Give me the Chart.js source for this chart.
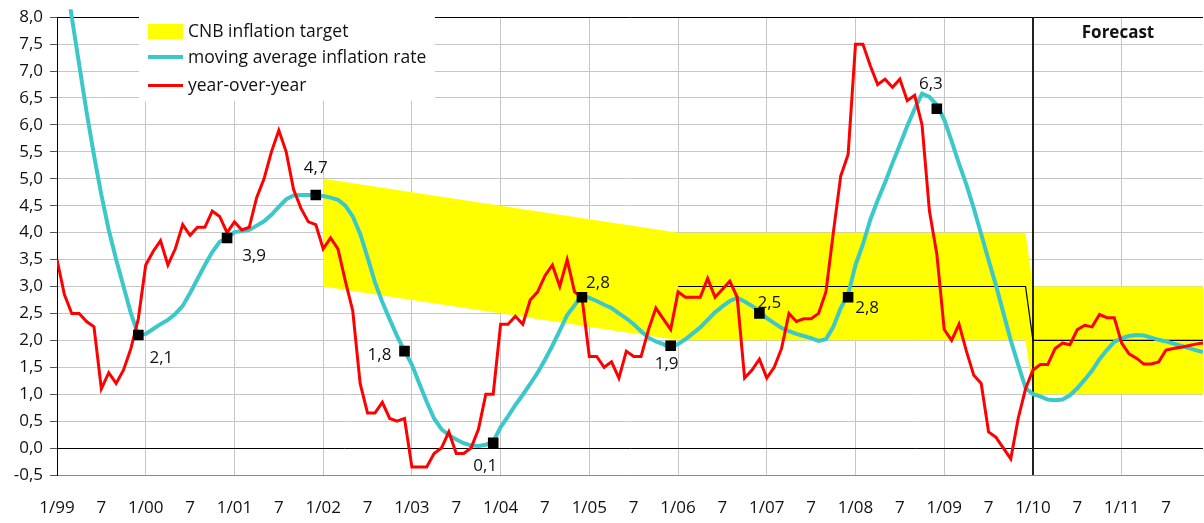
<!DOCTYPE html>
<html>
<head>
<meta charset="utf-8">
<script src="https://cdn.jsdelivr.net/npm/chart.js@4.4.1/dist/chart.umd.min.js"></script>
<style>
  body { margin: 0; background: #fff; }
  canvas { display: block; }
</style>
</head>
<body>
<canvas id="myChart" width="1204" height="523"></canvas>
<script>
// months are counted from 1/99 (index 0) to 12/11 (index 155)
const tickLabels = ["1/99", "7", "1/00", "7", "1/01", "7", "1/02", "7", "1/03", "7", "1/04", "7",
  "1/05", "7", "1/06", "7", "1/07", "7", "1/08", "7", "1/09", "7", "1/10", "7", "1/11", "7"];

const yearOverYear = [
  3.5, 2.85, 2.5, 2.5, 2.35, 2.25, 1.1, 1.4, 1.2, 1.45, 1.85, 2.4,
  3.4, 3.65, 3.85, 3.4, 3.7, 4.15, 3.95, 4.1, 4.1, 4.4, 4.3, 4.0,
  4.2, 4.05, 4.1, 4.65, 5.0, 5.5, 5.9, 5.5, 4.8, 4.45, 4.2, 4.15,
  3.7, 3.9, 3.7, 3.1, 2.55, 1.2, 0.65, 0.65, 0.85, 0.55, 0.5, 0.55,
  -0.35, -0.35, -0.35, -0.1, 0.0, 0.3, -0.1, -0.1, 0.0, 0.35, 1.0, 1.0,
  2.3, 2.3, 2.45, 2.3, 2.75, 2.9, 3.2, 3.4, 3.0, 3.5, 2.9, 2.8,
  1.7, 1.7, 1.5, 1.6, 1.3, 1.8, 1.7, 1.7, 2.2, 2.6, 2.4, 2.2,
  2.9, 2.8, 2.8, 2.8, 3.15, 2.8, 2.95, 3.1, 2.8, 1.3, 1.45, 1.65,
  1.3, 1.5, 1.85, 2.5, 2.35, 2.4, 2.4, 2.5, 2.9, 4.0, 5.05, 5.45,
  7.5, 7.5, 7.1, 6.75, 6.85, 6.7, 6.85, 6.45, 6.55, 6.0, 4.4, 3.6,
  2.2, 2.0, 2.3, 1.8, 1.35, 1.2, 0.3, 0.2, 0.0, -0.2, 0.55, 1.1,
  1.45, 1.55, 1.55, 1.85, 1.95, 1.92, 2.2, 2.28, 2.25, 2.48, 2.42, 2.42,
  1.95, 1.75, 1.67, 1.56, 1.56, 1.6, 1.82, 1.85, 1.87, 1.9, 1.93, 1.95
];

const movingAverage = [
  9.8, 8.9, 8.0, 7.12, 6.24, 5.44, 4.7, 4.05, 3.5, 3.0, 2.5, 2.1,
  2.12, 2.21, 2.3, 2.38, 2.49, 2.64, 2.88, 3.14, 3.4, 3.64, 3.83, 3.9,
  4.01, 4.03, 4.05, 4.13, 4.21, 4.33, 4.48, 4.62, 4.69, 4.7, 4.7, 4.7,
  4.68, 4.65, 4.61, 4.5, 4.3, 3.98, 3.54, 3.08, 2.71, 2.39, 2.08, 1.8,
  1.55, 1.2, 0.86, 0.55, 0.35, 0.24, 0.16, 0.09, 0.05, 0.04, 0.06, 0.12,
  0.39, 0.59, 0.8, 0.99, 1.19, 1.4, 1.64, 1.9, 2.18, 2.47, 2.65, 2.84,
  2.79, 2.73, 2.66, 2.6, 2.5, 2.41, 2.3, 2.17, 2.05, 1.98, 1.93, 1.86,
  1.93, 2.02, 2.13, 2.24, 2.38, 2.52, 2.63, 2.73, 2.79, 2.72, 2.64, 2.55,
  2.41, 2.32, 2.23, 2.17, 2.12, 2.08, 2.04, 1.99, 2.02, 2.25, 2.6, 2.85,
  3.4, 3.78, 4.24, 4.6, 4.93, 5.29, 5.63, 5.98, 6.3, 6.58, 6.52, 6.37,
  6.1, 5.7, 5.28, 4.89, 4.45, 3.97, 3.49, 3.02, 2.51, 2.0, 1.55, 1.12,
  1.0, 0.96, 0.9, 0.89, 0.9, 0.98, 1.11, 1.27, 1.44, 1.65, 1.82, 1.97,
  2.04, 2.08, 2.1, 2.09, 2.05, 2.01, 1.98, 1.94, 1.9, 1.86, 1.82, 1.78
];

// CNB target band corners (month index, lower and upper bound)
const targetMonths = [36, 84, 131, 132, 155];
const targetUpper = [5.0, 4.0, 4.0, 3.0, 3.0];
const targetLower = [3.0, 2.0, 2.0, 1.0, 1.0];

// point target line
const targetLineMonths = [84, 131, 132, 155];
const targetLineValues = [3.0, 3.0, 2.0, 2.0];

// annual average inflation, plotted at December
const markerMonths = [11, 23, 35, 47, 59, 71, 83, 95, 107, 119];
const markerValues = [2.1, 3.9, 4.7, 1.8, 0.1, 2.8, 1.9, 2.5, 2.8, 6.3];

const forecastStart = 132;

// label placement relative to marker (pixels)
const markerLabelOffsets = [[23, 23], [27, 18], [0, -27], [-25, 4], [-8, 23],
  [16, -14], [-4, 18], [10, -10], [19, 11], [-6, -25]];

const toPoints = (values) => values.map((v, i) => ({ x: i, y: v }));
const pairPoints = (xs, ys) => xs.map((x, i) => ({ x: x, y: ys[i] }));
const fmt = (v) => v.toFixed(1).replace(".", ",");

const FONT = "'Open Sans', sans-serif";
Chart.defaults.font.family = FONT;
Chart.defaults.font.size = 17;
Chart.defaults.color = "#111";

const overlay = {
  id: "overlay",
  afterDatasetDraw(chart, args) {
    // forecast divider sits above the yellow band but below the lines
    if (args.index !== 4) return;
    const ctx = chart.ctx;
    const area = chart.chartArea;
    const x = Math.round(chart.scales.x.getPixelForValue(forecastStart));
    ctx.save();
    ctx.strokeStyle = "#222";
    ctx.lineWidth = 2;
    ctx.beginPath();
    ctx.moveTo(x, area.top);
    ctx.lineTo(x, area.bottom);
    ctx.stroke();
    ctx.restore();
  },
  afterDatasetsDraw(chart) {
    const ctx = chart.ctx;
    const xs = chart.scales.x;
    const ys = chart.scales.y;
    ctx.save();

    // marker labels
    ctx.font = "17px " + FONT;
    ctx.fillStyle = "#111";
    ctx.textAlign = "center";
    ctx.textBaseline = "middle";
    markerMonths.forEach((m, i) => {
      const px = xs.getPixelForValue(m);
      const py = ys.getPixelForValue(markerValues[i]);
      const off = markerLabelOffsets[i];
      ctx.fillText(fmt(markerValues[i]), px + off[0], py + off[1]);
    });

    // Forecast caption
    ctx.font = "bold 17px " + FONT;
    ctx.fillText("Forecast", 1118, 33);

    // legend box
    const ds = chart.data.datasets;
    ctx.fillStyle = "#fff";
    ctx.fillRect(139, 15, 296, 86);
    ctx.font = "17.5px " + FONT;
    ctx.textAlign = "left";
    ctx.fillStyle = ds[5].backgroundColor;
    ctx.fillRect(148, 24, 35, 15);
    ctx.lineWidth = ds[2].borderWidth;
    ctx.strokeStyle = ds[2].borderColor;
    ctx.beginPath(); ctx.moveTo(148, 57); ctx.lineTo(183, 57); ctx.stroke();
    ctx.lineWidth = ds[1].borderWidth;
    ctx.strokeStyle = ds[1].borderColor;
    ctx.beginPath(); ctx.moveTo(148, 85.5); ctx.lineTo(183, 85.5); ctx.stroke();
    ctx.fillStyle = "#111";
    ctx.fillText(ds[5].label, 188, 32);
    ctx.fillText(ds[2].label, 188, 58);
    ctx.fillText(ds[1].label, 188, 86);
    ctx.restore();
  }
};

new Chart(document.getElementById("myChart").getContext("2d"), {
  type: "line",
  data: {
    datasets: [
      {
        label: "annual average",
        data: pairPoints(markerMonths, markerValues),
        showLine: false,
        pointStyle: "rect",
        pointRadius: 7.5,
        pointBackgroundColor: "#000",
        pointBorderColor: "#000",
        pointBorderWidth: 0,
        order: 0
      },
      {
        label: "year-over-year",
        data: toPoints(yearOverYear),
        borderColor: "#ff0000",
        borderWidth: 3,
        pointRadius: 0,
        tension: 0,
        order: 1
      },
      {
        label: "moving average inflation rate",
        data: toPoints(movingAverage),
        borderColor: "#3cc8c8",
        borderWidth: 4,
        pointRadius: 0,
        tension: 0,
        clip: { left: 0, top: 8, right: 0, bottom: 0 },
        order: 2
      },
      {
        label: "target",
        data: pairPoints(targetLineMonths, targetLineValues),
        borderColor: "#000",
        borderWidth: 1.2,
        pointRadius: 0,
        tension: 0,
        order: 3
      },
      {
        label: "target lower",
        data: pairPoints(targetMonths, targetLower),
        borderColor: "rgba(0,0,0,0)",
        borderWidth: 0,
        pointRadius: 0,
        fill: false,
        order: 4
      },
      {
        label: "CNB inflation target",
        data: pairPoints(targetMonths, targetUpper),
        borderColor: "rgba(0,0,0,0)",
        backgroundColor: "#ffff00",
        borderWidth: 0,
        pointRadius: 0,
        fill: "-1",
        order: 5
      }
    ]
  },
  options: {
    responsive: false,
    animation: false,
    devicePixelRatio: 1,
    layout: { autoPadding: false, padding: { top: 14, right: 1, left: 0, bottom: 0 } },
    plugins: {
      legend: { display: false },
      tooltip: { enabled: false }
    },
    scales: {
      x: {
        type: "linear",
        min: 0,
        max: 155,
        afterBuildTicks: (scale) => {
          scale.ticks = tickLabels.map((_, k) => ({ value: k * 6 }));
        },
        afterFit: (scale) => { scale.height = 48; },
        ticks: {
          autoSkip: false,
          maxRotation: 0,
          padding: 23,
          callback: (value) => tickLabels[Math.round(value / 6)]
        },
        grid: {
          drawTicks: false,
          color: (ctx) => (ctx.tick && ctx.tick.value % 12 === 0 ? "#c6c6c6" : "rgba(0,0,0,0)")
        },
        border: { color: "#888" }
      },
      y: {
        min: -0.5,
        max: 8,
        afterFit: (scale) => { scale.width = 57; },
        ticks: {
          stepSize: 0.5,
          maxTicksLimit: 40,
          padding: 7,
          callback: (value) => fmt(value)
        },
        grid: {
          tickLength: 7,
          tickColor: "#555",
          color: (ctx) => {
            const v = ctx.tick ? ctx.tick.value : 1;
            if (Math.abs(v) < 1e-9 || Math.abs(v - 8) < 1e-9) return "#000";
            if (Math.abs(v + 0.5) < 1e-9) return "#888";
            return "#c6c6c6";
          }
        },
        border: { color: "#000" }
      }
    }
  },
  plugins: [overlay]
});
</script>
</body>
</html>
